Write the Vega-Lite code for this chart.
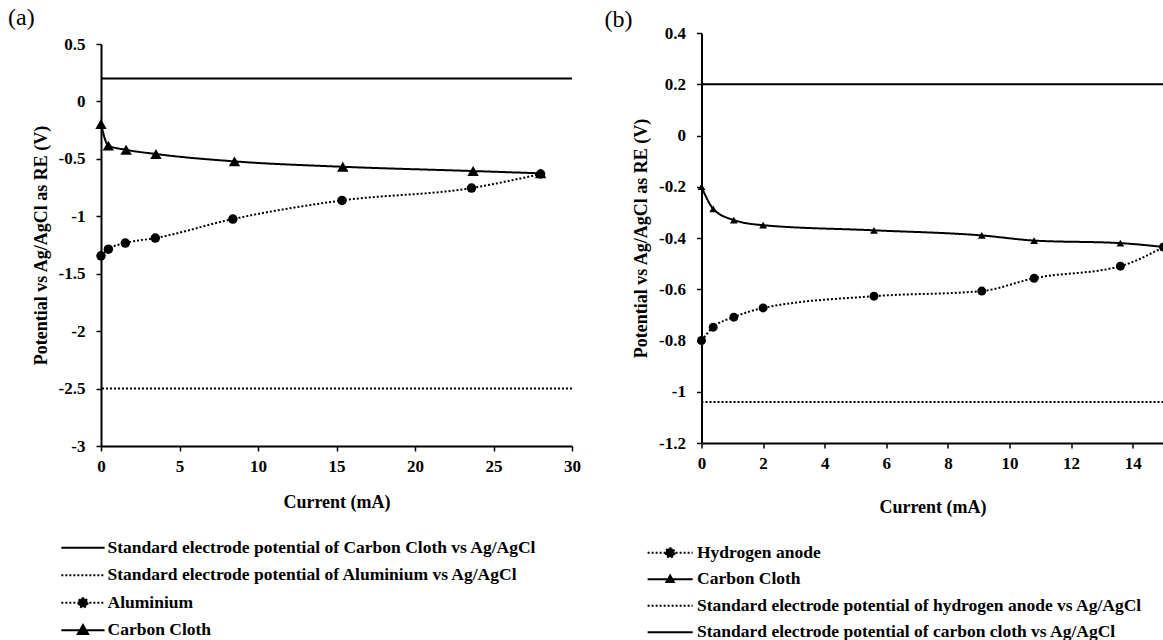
{
  "$schema": "https://vega.github.io/schema/vega-lite/v6.json",
  "background": "white",
  "padding": {"left": 8, "top": 6, "right": 0, "bottom": 0},
  "config": {
    "view": {"stroke": null},
    "font": "Liberation Serif",
    "axis": {"grid": false, "domainColor": "black", "domainWidth": 2, "tickColor": "black", "tickWidth": 1.5, "tickSize": 5, "labelFont": "Liberation Serif", "labelFontSize": 17, "labelFontWeight": "bold", "labelColor": "black", "titleFont": "Liberation Serif", "titleFontSize": 18, "titleFontWeight": "bold", "titleColor": "black", "labelFlush": false, "labelOverlap": false},
    "axisY": {"labelPadding": 11, "titlePadding": 8},
    "axisX": {"labelPadding": 7},
    "legend": {"labelFont": "Liberation Serif", "labelFontSize": 17.5, "labelFontWeight": "bold", "labelColor": "black", "padding": 0, "symbolStrokeColor": "black", "symbolFillColor": "black", "symbolStrokeWidth": 2, "labelLimit": 700},
    "title": {"font": "Liberation Serif", "fontSize": 24, "fontWeight": "normal", "color": "black", "anchor": "start", "frame": "bounds"}
  },
  "datasets": {
    "a_ref": [
      {"series": "Standard electrode potential of Carbon Cloth vs Ag/AgCl", "potential": 0.2},
      {"series": "Standard electrode potential of Aluminium vs Ag/AgCl", "potential": -2.5}
    ],
    "a_data": [
      {"series": "Aluminium", "current": 0, "potential": -1.344},
      {"series": "Aluminium", "current": 0.47, "potential": -1.286},
      {"series": "Aluminium", "current": 1.55, "potential": -1.233},
      {"series": "Aluminium", "current": 3.46, "potential": -1.19},
      {"series": "Aluminium", "current": 8.4, "potential": -1.024},
      {"series": "Aluminium", "current": 15.35, "potential": -0.862},
      {"series": "Aluminium", "current": 23.6, "potential": -0.754},
      {"series": "Aluminium", "current": 28.0, "potential": -0.632},
      {"series": "Carbon Cloth", "current": 0, "potential": -0.197},
      {"series": "Carbon Cloth", "current": 0.47, "potential": -0.385},
      {"series": "Carbon Cloth", "current": 1.6, "potential": -0.421},
      {"series": "Carbon Cloth", "current": 3.5, "potential": -0.458},
      {"series": "Carbon Cloth", "current": 8.5, "potential": -0.522},
      {"series": "Carbon Cloth", "current": 15.4, "potential": -0.569},
      {"series": "Carbon Cloth", "current": 23.7, "potential": -0.606},
      {"series": "Carbon Cloth", "current": 28.0, "potential": -0.626}
    ],
    "b_ref": [
      {"series": "Standard electrode potential of hydrogen anode vs Ag/AgCl", "potential": -1.04},
      {"series": "Standard electrode potential of carbon cloth vs Ag/AgCl", "potential": 0.2}
    ],
    "b_data": [
      {"series": "Hydrogen anode", "current": 0, "potential": -0.8},
      {"series": "Hydrogen anode", "current": 0.38, "potential": -0.748},
      {"series": "Hydrogen anode", "current": 1.05, "potential": -0.709},
      {"series": "Hydrogen anode", "current": 2.0, "potential": -0.673},
      {"series": "Hydrogen anode", "current": 5.6, "potential": -0.627},
      {"series": "Hydrogen anode", "current": 9.1, "potential": -0.607},
      {"series": "Hydrogen anode", "current": 10.8, "potential": -0.557},
      {"series": "Hydrogen anode", "current": 13.6, "potential": -0.51},
      {"series": "Hydrogen anode", "current": 15.0, "potential": -0.435},
      {"series": "Carbon Cloth", "current": 0, "potential": -0.2},
      {"series": "Carbon Cloth", "current": 0.38, "potential": -0.286},
      {"series": "Carbon Cloth", "current": 1.05, "potential": -0.33},
      {"series": "Carbon Cloth", "current": 2.0, "potential": -0.35},
      {"series": "Carbon Cloth", "current": 5.6, "potential": -0.37},
      {"series": "Carbon Cloth", "current": 9.1, "potential": -0.39},
      {"series": "Carbon Cloth", "current": 10.8, "potential": -0.41},
      {"series": "Carbon Cloth", "current": 13.6, "potential": -0.42},
      {"series": "Carbon Cloth", "current": 15.0, "potential": -0.435}
    ]
  },
  "spacing": 23.5,
  "align": "none",
  "resolve": {
    "scale": {"x": "independent", "y": "independent", "strokeDash": "independent", "shape": "independent", "size": "independent"},
    "legend": {"strokeDash": "independent", "shape": "independent", "size": "independent"}
  },
  "hconcat": [
    {
      "title": {"text": "(a)", "dx": -24, "offset": 2.9},
      "width": 471,
      "height": 413,
      "encoding": {
        "y": {"field": "potential", "type": "quantitative", "scale": {"domain": [-3, 0.5], "range": [413, 11], "nice": false, "zero": false}, "axis": {"title": "Potential vs Ag/AgCl as RE (V)", "values": [-3, -2.5, -2, -1.5, -1, -0.5, 0, 0.5], "labelExpr": "'' + datum.value"}},
        "strokeDash": {"field": "series", "type": "nominal", "scale": {"domain": ["Standard electrode potential of Carbon Cloth vs Ag/AgCl", "Standard electrode potential of Aluminium vs Ag/AgCl", "Aluminium", "Carbon Cloth"], "range": [[1, 0], [2, 2], [2, 2], [1, 0]]},
          "legend": {"title": null, "orient": "none", "legendX": -43, "legendY": 506, "direction": "vertical", "symbolSize": 117, "labelOffset": 32, "rowPadding": 8.5,
            "encode": {"symbols": {"update": {"shape": {"signal": "datum.value === 'Aluminium' ? 'M-1,0H7M3.85,0A0.85,0.85 0 1,1 2.15,0A0.85,0.85 0 1,1 3.85,0Z' : datum.value === 'Carbon Cloth' ? 'M-1,0H7M3,-0.95L3.95,0.7L2.05,0.7Z' : 'M-1,0H7'"}, "fill": {"value": "black"}, "stroke": {"value": "black"}, "strokeWidth": {"value": 2}, "opacity": {"value": 1}}}}}}
      },
      "layer": [
        {
          "data": {"name": "a_ref"},
          "mark": {"type": "rule", "color": "black", "strokeWidth": 2}
        },
        {
          "data": {"name": "a_data"},
          "mark": {"type": "line", "color": "black", "strokeWidth": 2, "interpolate": "monotone"},
          "encoding": {
            "x": {"field": "current", "type": "quantitative", "scale": {"domain": [0, 30], "nice": false}, "axis": {"title": "Current (mA)", "titlePadding": 19, "values": [0, 5, 10, 15, 20, 25, 30], "labelExpr": "'' + datum.value"}}
          }
        },
        {
          "data": {"name": "a_data"},
          "mark": {"type": "point", "filled": true, "color": "black", "opacity": 1},
          "encoding": {
            "x": {"field": "current", "type": "quantitative"},
            "shape": {"field": "series", "type": "nominal", "scale": {"domain": ["Aluminium", "Carbon Cloth"], "range": ["circle", "triangle-up"]}, "legend": null},
            "size": {"field": "series", "type": "ordinal", "scale": {"domain": ["Aluminium", "Carbon Cloth"], "range": [90, 130]}, "legend": null},
            "strokeDash": {"value": [1, 0]}
          }
        }
      ]
    },
    {
      "title": {"text": "(b)", "dx": -28, "offset": -8.1},
      "width": 462,
      "height": 410,
      "encoding": {
        "y": {"field": "potential", "type": "quantitative", "scale": {"domain": [-1.2, 0.4], "nice": false, "zero": false}, "axis": {"title": "Potential vs Ag/AgCl as RE (V)", "values": [-1.2, -1, -0.8, -0.6, -0.4, -0.2, 0, 0.2, 0.4], "labelExpr": "'' + datum.value"}},
        "strokeDash": {"field": "series", "type": "nominal", "scale": {"domain": ["Hydrogen anode", "Carbon Cloth", "Standard electrode potential of hydrogen anode vs Ag/AgCl", "Standard electrode potential of carbon cloth vs Ag/AgCl"], "range": [[2, 2], [1, 0], [2, 2], [1, 0]]},
          "legend": {"title": null, "orient": "none", "legendX": -57, "legendY": 511, "direction": "vertical", "symbolSize": 127, "labelOffset": 35, "rowPadding": 7.5,
            "encode": {"symbols": {"update": {"shape": {"signal": "datum.value === 'Hydrogen anode' ? 'M-1,0H7M3.8,0A0.8,0.8 0 1,1 2.2,0A0.8,0.8 0 1,1 3.8,0Z' : datum.value === 'Carbon Cloth' ? 'M-1,0H7M3,-0.65L3.65,0.5L2.35,0.5Z' : 'M-1,0H7'"}, "fill": {"value": "black"}, "stroke": {"value": "black"}, "strokeWidth": {"value": 2}, "opacity": {"value": 1}}}}}}
      },
      "layer": [
        {
          "data": {"name": "b_ref"},
          "mark": {"type": "rule", "color": "black", "strokeWidth": 2}
        },
        {
          "data": {"name": "b_data"},
          "mark": {"type": "line", "color": "black", "strokeWidth": 2, "interpolate": "monotone"},
          "encoding": {
            "x": {"field": "current", "type": "quantitative", "scale": {"domain": [0, 15], "nice": false}, "axis": {"title": "Current (mA)", "titlePadding": 27, "values": [0, 2, 4, 6, 8, 10, 12, 14], "labelExpr": "'' + datum.value"}}
          }
        },
        {
          "data": {"name": "b_data"},
          "mark": {"type": "point", "filled": true, "color": "black", "opacity": 1},
          "encoding": {
            "x": {"field": "current", "type": "quantitative"},
            "shape": {"field": "series", "type": "nominal", "scale": {"domain": ["Hydrogen anode", "Carbon Cloth"], "range": ["circle", "triangle-up"]}, "legend": null},
            "size": {"field": "series", "type": "ordinal", "scale": {"domain": ["Hydrogen anode", "Carbon Cloth"], "range": [80, 60]}, "legend": null},
            "strokeDash": {"value": [1, 0]}
          }
        }
      ]
    }
  ]
}
